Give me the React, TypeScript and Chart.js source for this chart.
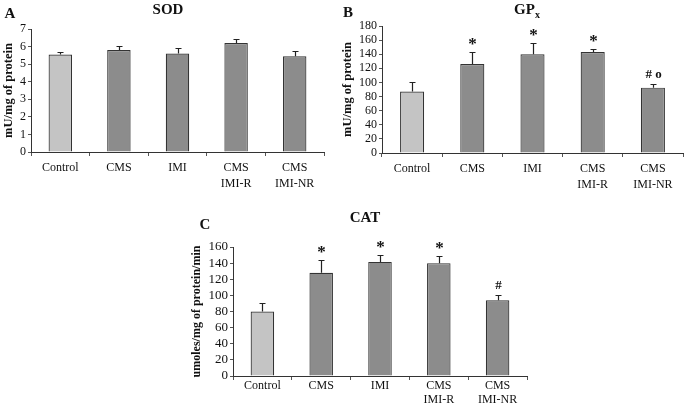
import React, { useEffect, useRef } from "react";
import { Chart, registerables } from "chart.js";

Chart.register(...registerables);

const categories: (string | string[])[] = ["Control", "CMS", "IMI", ["CMS", "IMI-R"], ["CMS", "IMI-NR"]];

const sodValues = [5.55, 5.8, 5.6, 6.2, 5.45];
const sodErrors = [0.15, 0.25, 0.3, 0.25, 0.27];
const sodMarks = ["", "", "", "", ""];
const sodTicks = { min: 0, max: 7, step: 1 };

const gpxValues = [87, 126, 140, 143, 92.6];
const gpxErrors = [14, 17, 16, 5, 4.5];
const gpxMarks = ["", "*", "*", "*", "# o"];
const gpxTicks = { min: 0, max: 180, step: 20 };

const catValues = [80, 128, 141.5, 140, 94];
const catErrors = [11, 15.5, 8, 9, 6];
const catMarks = ["", "*", "*", "*", "#"];
const catTicks = { min: 0, max: 160, step: 20 };

const barColors = ["#c4c4c4", "#8c8c8c", "#8c8c8c", "#8c8c8c", "#8c8c8c"];
const FONT = "'Liberation Serif', 'Times New Roman', serif";

type PanelCfg = {
  values: number[];
  errors: number[];
  marks: string[];
  ticks: { min: number; max: number; step: number };
  letter: string;
  letterPos: [number, number];
  title: string;
  titleSub?: string;
  titlePos: [number, number];
  yTitle: string;
  yTitleX: number;
  yTitleSize: number;
  tickSize: number;
  xTickSize: number;
  xPad: number;
  xLineHeight: number;
  padTop: number;
  padRight: number;
  yWidth: number;
  xHeight: number;
};

const overlay = {
  id: "overlay",
  afterDraw(chart: any, _args: any, opts: any) {
    const cfg: PanelCfg = opts.cfg;
    if (!cfg) return;
    const { ctx, chartArea } = chart;
    const meta = chart.getDatasetMeta(0);
    const ys = chart.scales.y;
    ctx.save();
    // error bars
    ctx.strokeStyle = "#222";
    ctx.lineWidth = 1.2;
    cfg.values.forEach((v, i) => {
      const bar = meta.data[i];
      const x = Math.round(bar.x) + 0.5;
      const y0 = ys.getPixelForValue(v);
      const y1 = Math.round(ys.getPixelForValue(v + cfg.errors[i])) + 0.5;
      ctx.beginPath();
      ctx.moveTo(x, y0);
      ctx.lineTo(x, y1);
      ctx.moveTo(x - 3, y1);
      ctx.lineTo(x + 3, y1);
      ctx.stroke();
      const m = cfg.marks[i];
      if (m) {
        ctx.fillStyle = "#111";
        ctx.textAlign = "center";
        ctx.textBaseline = "middle";
        if (m === "*") {
          ctx.font = `bold 17px ${FONT}`;
          ctx.fillText(m, x, y1 - 8);
        } else {
          ctx.font = `bold 13px ${FONT}`;
          ctx.fillText(m, x, y1 - 10);
        }
      }
    });
    // panel letter
    ctx.fillStyle = "#111";
    ctx.textBaseline = "middle";
    ctx.textAlign = "center";
    ctx.font = `bold 15px ${FONT}`;
    ctx.fillText(cfg.letter, cfg.letterPos[0], cfg.letterPos[1]);
    // title
    ctx.font = `bold 15px ${FONT}`;
    if (cfg.titleSub) {
      const w1 = ctx.measureText(cfg.title).width;
      ctx.font = `bold 10px ${FONT}`;
      const w2 = ctx.measureText(cfg.titleSub).width;
      const start = cfg.titlePos[0] - (w1 + w2) / 2;
      ctx.textAlign = "left";
      ctx.font = `bold 15px ${FONT}`;
      ctx.fillText(cfg.title, start, cfg.titlePos[1]);
      ctx.font = `bold 10px ${FONT}`;
      ctx.fillText(cfg.titleSub, start + w1, cfg.titlePos[1] + 5);
    } else {
      ctx.fillText(cfg.title, cfg.titlePos[0], cfg.titlePos[1]);
    }
    // y title
    ctx.translate(cfg.yTitleX, (chartArea.top + chartArea.bottom) / 2);
    ctx.rotate(-Math.PI / 2);
    ctx.textAlign = "center";
    ctx.font = `bold ${cfg.yTitleSize}px ${FONT}`;
    ctx.fillText(cfg.yTitle, 0, 0);
    ctx.restore();
  },
};

function Panel(props: { cfg: PanelCfg; left: number; top: number; width: number; height: number }) {
  const ref = useRef<HTMLCanvasElement>(null);
  const { cfg } = props;
  useEffect(() => {
    if (!ref.current) return;
    const chart = new Chart(ref.current, {
      type: "bar",
      data: {
        labels: categories,
        datasets: [
          {
            data: cfg.values,
            backgroundColor: barColors,
            borderColor: "#333",
            borderWidth: 1.2,
            categoryPercentage: 1,
            barPercentage: 0.4,
          },
        ],
      },
      plugins: [overlay],
      options: {
        responsive: false,
        animation: false,
        devicePixelRatio: 1,
        layout: { padding: { top: cfg.padTop, right: cfg.padRight, left: 0, bottom: 0 } },
        plugins: {
          legend: { display: false },
          tooltip: { enabled: false },
          title: { display: false },
          overlay: { cfg },
        } as any,
        scales: {
          x: {
            afterFit: (s: any) => {
              s.height = cfg.xHeight;
            },
            border: { display: true, color: "#333", width: 1 },
            grid: { drawOnChartArea: false, drawTicks: true, tickLength: 4, color: "#555", offset: true },
            ticks: {
              color: "#111",
              font: { family: FONT, size: cfg.xTickSize, lineHeight: cfg.xLineHeight },
              padding: cfg.xPad,
              maxRotation: 0,
              autoSkip: false,
            },
          },
          y: {
            min: cfg.ticks.min,
            max: cfg.ticks.max,
            afterFit: (s: any) => {
              s.width = cfg.yWidth;
            },
            border: { display: true, color: "#333", width: 1 },
            grid: { drawOnChartArea: false, drawTicks: true, tickLength: 3, color: "#555" },
            ticks: {
              stepSize: cfg.ticks.step,
              autoSkip: false,
              color: "#111",
              font: { family: FONT, size: cfg.tickSize },
              padding: 2,
            },
          },
        },
      },
    });
    return () => chart.destroy();
  }, []);
  return (
    <canvas
      ref={ref}
      width={props.width}
      height={props.height}
      style={{ position: "absolute", left: props.left, top: props.top, width: props.width, height: props.height }}
    />
  );
}

const panelA: PanelCfg = {
  values: sodValues,
  errors: sodErrors,
  marks: sodMarks,
  ticks: sodTicks,
  letter: "A",
  letterPos: [10, 14],
  title: "SOD",
  titlePos: [168, 10],
  yTitle: "mU/mg of protein",
  yTitleX: 9,
  yTitleSize: 12.5,
  tickSize: 12,
  xTickSize: 12,
  xPad: 3,
  xLineHeight: 1.4,
  padTop: 29,
  padRight: 16,
  yWidth: 31,
  xHeight: 48,
};

const panelB: PanelCfg = {
  values: gpxValues,
  errors: gpxErrors,
  marks: gpxMarks,
  ticks: gpxTicks,
  letter: "B",
  letterPos: [8, 13],
  title: "GP",
  titleSub: "x",
  titlePos: [187, 10],
  yTitle: "mU/mg of protein",
  yTitleX: 8,
  yTitleSize: 12.5,
  tickSize: 12,
  xTickSize: 12,
  xPad: 3,
  xLineHeight: 1.4,
  padTop: 26,
  padRight: 2,
  yWidth: 42,
  xHeight: 47,
};

const panelC: PanelCfg = {
  values: catValues,
  errors: catErrors,
  marks: catMarks,
  ticks: catTicks,
  letter: "C",
  letterPos: [35, 25],
  title: "CAT",
  titlePos: [195, 18],
  yTitle: "umoles/mg of protein/min",
  yTitleX: 27,
  yTitleSize: 12,
  tickSize: 13,
  xTickSize: 12,
  xPad: -1,
  xLineHeight: 1.17,
  padTop: 47,
  padRight: 3,
  yWidth: 63,
  xHeight: 31,
};

export default function App() {
  return (
    <div style={{ position: "fixed", left: 0, top: 0, width: 685, height: 407, background: "#fff", overflow: "hidden" }}>
      <Panel cfg={panelA} left={0} top={0} width={340} height={200} />
      <Panel cfg={panelB} left={340} top={0} width={345} height={200} />
      <Panel cfg={panelC} left={170} top={200} width={360} height={207} />
    </div>
  );
}
